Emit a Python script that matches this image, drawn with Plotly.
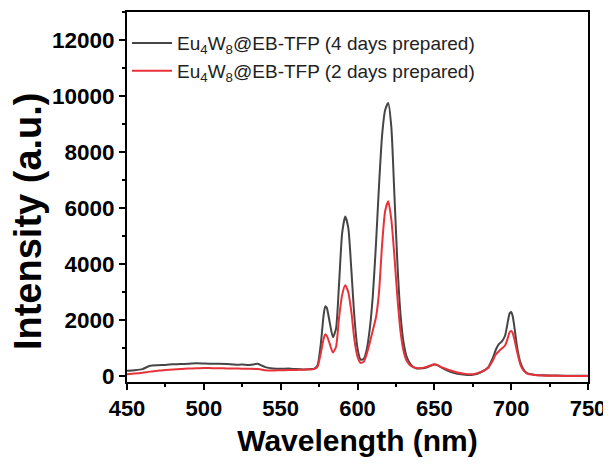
import plotly.graph_objects as go

wl = [450, 455, 460, 465, 470, 475, 480, 485, 490, 495, 500, 505, 510, 515, 520, 525, 530, 535, 538, 540, 545, 550, 555, 560, 565, 570, 572, 574, 576, 578, 579, 580, 582, 584, 586, 588, 590, 592, 594, 596, 598, 600, 602, 604, 606, 608, 610, 612, 614, 616, 618, 620, 622, 624, 626, 628, 630, 632, 635, 638, 640, 645, 648, 650, 652, 655, 660, 665, 670, 675, 680, 685, 688, 690, 692, 694, 696, 698, 699, 700, 701, 702, 704, 706, 708, 710, 715, 720, 730, 740, 750]

days4 = [200, 220, 260, 380, 400, 410, 430, 440, 450, 470, 460, 450, 450, 440, 420, 420, 410, 450, 380, 330, 280, 270, 280, 260, 250, 260, 280, 400, 1100, 2200, 2500, 2450, 1900, 1400, 1700, 3300, 5100, 5700, 5300, 3800, 2100, 1000, 600, 620, 950, 1700, 2900, 4700, 6800, 8600, 9500, 9750, 8900, 6500, 4000, 2200, 1200, 700, 400, 290, 280, 320, 390, 420, 400, 300, 170, 90, 55, 55, 140, 320, 650, 950, 1150, 1250, 1450, 2000, 2250, 2300, 2150, 1800, 1000, 500, 250, 130, 60, 40, 30, 25, 25]

days2 = [80, 100, 130, 170, 200, 230, 250, 260, 280, 290, 300, 295, 290, 285, 280, 275, 270, 260, 240, 220, 210, 220, 225, 230, 240, 250, 270, 350, 800, 1350, 1500, 1450, 1150, 850, 1050, 2100, 2900, 3250, 3000, 2300, 1300, 700, 480, 520, 800, 1200, 1650, 2100, 3000, 4700, 5900, 6250, 5600, 4300, 2800, 1600, 900, 560, 360, 300, 290, 340, 400, 430, 400, 320, 220, 140, 90, 80, 150, 300, 560, 780, 900, 1000, 1100, 1400, 1580, 1620, 1550, 1350, 850, 420, 210, 110, 50, 30, 20, 15, 15]

x_ticks = [450, 500, 550, 600, 650, 700, 750]
y_ticks = [0, 2000, 4000, 6000, 8000, 10000, 12000]
y_ticktext = ["0", "2000", "4000", "6000", "8000", "10000", "12000"]

label4 = "Eu<sub>4</sub>W<sub>8</sub>@EB-TFP (4 days prepared)"
label2 = "Eu<sub>4</sub>W<sub>8</sub>@EB-TFP (2 days prepared)"

fig = go.Figure()
fig.add_trace(go.Scatter(x=wl, y=days4, mode="lines", name=label4,
                         line=dict(color="#454545", width=2, shape="spline", smoothing=0.6)))
fig.add_trace(go.Scatter(x=wl, y=days2, mode="lines", name=label2,
                         line=dict(color="#e8323a", width=2, shape="spline", smoothing=0.6)))

FONT = "Arial, Liberation Sans, sans-serif"
# page body has an 8px margin; margins compensate so the frame lands at 127..588 x 12..382
fig.update_layout(
    width=611, height=466,
    margin=dict(l=119, r=31, t=4, b=92),
    paper_bgcolor="white", plot_bgcolor="white",
    font=dict(family=FONT, color="black"),
    showlegend=True,
    legend=dict(x=0.0, y=0.967, xanchor="left", yanchor="top",
                bgcolor="rgba(0,0,0,0)", font=dict(size=19, color="#222", family=FONT),
                tracegroupgap=0, itemwidth=40),
    annotations=[dict(text="<b>Intensity (a.u.)</b>", textangle=-90,
                      xref="paper", yref="paper", x=0, y=0.435,
                      xanchor="center", yanchor="middle", xshift=-99, showarrow=False,
                      font=dict(size=38, family=FONT, color="black"))],
)
fig.update_xaxes(
    range=[450, 750], tickvals=x_ticks, automargin=False,
    showgrid=False, zeroline=False,
    showline=True, linecolor="black", linewidth=2, mirror=True,
    ticks="outside", ticklen=6, tickwidth=2, tickcolor="black",
    minor=dict(dtick=25, ticks="outside", ticklen=3, tickwidth=1.5, tickcolor="black"),
    tickfont=dict(size=22, family=FONT, weight="bold"),
    title=dict(text="<b>Wavelength (nm)</b>", font=dict(size=30, family=FONT), standoff=10),
)
fig.update_yaxes(
    range=[-200, 13000], tickvals=y_ticks, ticktext=y_ticktext, automargin=False,
    showgrid=False, zeroline=False,
    showline=True, linecolor="black", linewidth=2, mirror=True,
    ticks="outside", ticklen=6, tickwidth=2, tickcolor="black",
    minor=dict(dtick=1000, ticks="outside", ticklen=3, tickwidth=1.5, tickcolor="black"),
    tickfont=dict(size=22.5, family=FONT, weight="bold"),
)

fig.write_html("out.html")
